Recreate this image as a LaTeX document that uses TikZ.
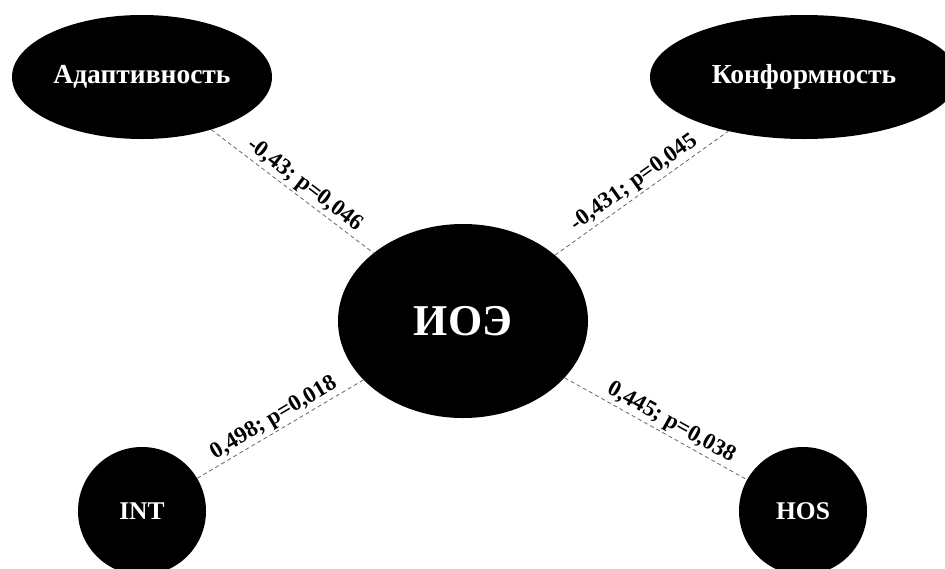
\documentclass[tikz,border=0pt]{standalone}
\usepackage{fontspec}
\setmainfont{Liberation Serif}
\usetikzlibrary{shapes.geometric}
\begin{document}
\begin{tikzpicture}[x=1pt,y=-1pt,
  blob/.style={ellipse, fill=black, text=white, inner sep=0pt,
    font=\fontsize{27.5}{30}\selectfont\bfseries},
  disc/.style={circle, fill=black, text=white, inner sep=0pt,
    minimum size=128pt, font=\fontsize{25.5}{28}\selectfont\bfseries},
  link/.style={draw=black!60, line width=0.8pt, dash pattern=on 4pt off 3pt},
  lbl/.style={sloped, above, inner sep=2pt,
    font=\fontsize{23}{26}\selectfont\bfseries}]
\useasboundingbox (0,0) rectangle (945,568);

% factor nodes
\node[blob, minimum width=260pt, minimum height=124pt] (adapt) at (142,77) {Адаптивность};
\node[blob, minimum width=308pt, minimum height=124pt] (konf) at (804,77) {Конформность};
\node[blob, minimum width=250pt, minimum height=194pt,
  font=\fontsize{44}{48}\selectfont\bfseries] (ioe) at (463,321) {ИОЭ};
\node[disc] (int) at (142,511) {INT};
\node[disc] (hos) at (803,511) {HOS};

% correlations
\draw[link] (adapt) -- node[lbl, pos=0.53] {-0,43; p=0,046} (ioe);
\draw[link] (ioe) -- node[lbl] {-0,431; p=0,045} (konf);
\draw[link] (int) -- node[lbl] {0,498; p=0,018} (ioe);
\draw[link] (ioe) -- node[lbl, pos=0.55] {0,445; p=0,038} (hos);
\end{tikzpicture}
\end{document}
